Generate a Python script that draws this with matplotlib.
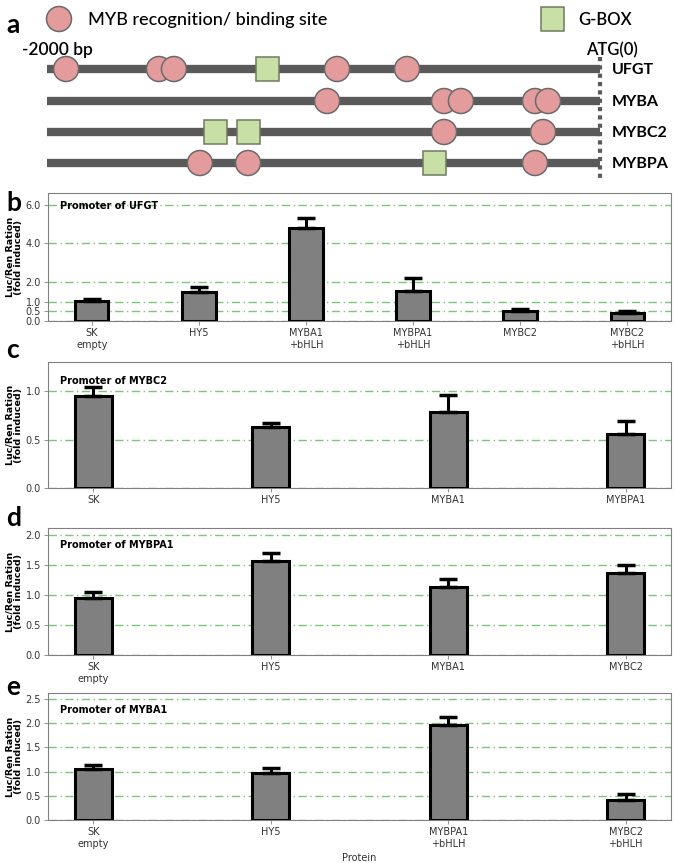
import matplotlib.pyplot as plt
from matplotlib.patches import Ellipse, Rectangle
import numpy as np

# ---- panel a: promoter maps (bp upstream of ATG) ----
genes = ["UFGT", "MYBA", "MYBC2", "MYBPA"]
ufgt_myb = [-1931, -1595, -1541, -951, -698]
ufgt_gbox = [-1204]
myba_myb = [-987, -564, -503, -235, -188]
myba_gbox = []
mybc2_myb = [-564, -206]
mybc2_gbox = [-1389, -1273]
mybpa_myb = [-1447, -1273, -235]
mybpa_gbox = [-600]

# ---- panels b-e: luciferase assays ----
b_labels = ["SK\nempty", "HY5", "MYBA1\n+bHLH", "MYBPA1\n+bHLH", "MYBC2", "MYBC2\n+bHLH"]
b_values = [1.04, 1.50, 4.79, 1.57, 0.54, 0.42]
b_err = [0.07, 0.23, 0.54, 0.63, 0.10, 0.10]

c_labels = ["SK", "HY5", "MYBA1", "MYBPA1"]
c_values = [0.95, 0.63, 0.78, 0.56]
c_err = [0.09, 0.04, 0.18, 0.13]

d_labels = ["SK\nempty", "HY5", "MYBA1", "MYBC2"]
d_values = [0.95, 1.57, 1.13, 1.37]
d_err = [0.09, 0.12, 0.13, 0.12]

e_labels = ["SK\nempty", "HY5", "MYBPA1\n+bHLH", "MYBC2\n+bHLH"]
e_values = [1.05, 0.97, 1.97, 0.41]
e_err = [0.09, 0.10, 0.15, 0.12]

W, H = 675, 863
fig = plt.figure(figsize=(W / 100, H / 100), dpi=100)

PINK = "#e39b9b"
GREEN = "#c8dfa6"
LINE = "#5a5a5a"

# panel a axes spans whole width, top 190 px; x in bp, y in pixels
axa = fig.add_axes([0, 1 - 190 / H, 1, 190 / H])
px_per_bp = 553 / 2000
axa.set_xlim(-2000 - 47 / px_per_bp, -2000 + (W - 47) / px_per_bp)
axa.set_ylim(190, 0)
axa.axis("off")


def bp(px):
    return -2000 + (px - 47) / px_per_bp


ell_w, ell_h = 25 / px_per_bp, 25
sq_w, sq_h = 23 / px_per_bp, 24

rows_y = [69, 101, 132, 163]
myb_sets = [ufgt_myb, myba_myb, mybc2_myb, mybpa_myb]
gbox_sets = [ufgt_gbox, myba_gbox, mybc2_gbox, mybpa_gbox]
for gene, y, mybs, gboxes in zip(genes, rows_y, myb_sets, gbox_sets):
    axa.plot([-2000, 0], [y, y], color=LINE, lw=6, solid_capstyle="butt", zorder=1)
    for p in mybs:
        axa.add_patch(Ellipse((p, y), ell_w, ell_h, facecolor=PINK,
                              edgecolor="#6a6a6a", lw=1.1, zorder=3))
    for p in gboxes:
        axa.add_patch(Rectangle((p - sq_w / 2, y - sq_h / 2), sq_w, sq_h,
                                facecolor=GREEN, edgecolor="#6f7a60", lw=1.1, zorder=3))
    axa.text(bp(612), y + 1, gene, fontsize=11.5, fontweight="bold",
             va="center", ha="left", family="Lato")

axa.plot([0, 0], [57, 180], color=LINE, lw=3, linestyle=(0, (1, 1)), zorder=2)

# legend of panel a
axa.add_patch(Ellipse((bp(59), 19), ell_w, ell_h, facecolor=PINK,
                      edgecolor="#6a6a6a", lw=1.1))
axa.text(bp(88), 20, "MYB recognition/ binding site",
         fontsize=13, fontweight="medium", va="center", ha="left", family="Lato")
axa.add_patch(Rectangle((bp(553) - sq_w / 2, 19 - sq_h / 2), sq_w, sq_h,
                        facecolor=GREEN, edgecolor="#6f7a60", lw=1.1))
axa.text(bp(578), 20, "G-BOX", fontsize=12, fontweight="semibold",
         va="center", ha="left", family="Lato")
axa.text(bp(22), 50, "-2000 bp", fontsize=12.5, fontweight="semibold",
         va="center", ha="left", family="Lato")
axa.text(bp(586), 50, "ATG(0)", fontsize=12, fontweight="semibold",
         va="center", ha="left", family="Lato")


def panel(top, bottom, labels, values, err, ymax, yticks, title, title_y, width, xpad,
          xlabel=None):
    ax = fig.add_axes([48 / W, 1 - bottom / H, (671 - 48) / W, (bottom - top) / H])
    x = np.arange(len(values))
    ax.bar(x, values, width=width, color="#808080", edgecolor="black", lw=2.2, zorder=3)
    ax.errorbar(x, values, yerr=[np.zeros(len(err)), err], fmt="none", ecolor="black",
                elinewidth=2.2, capsize=6.5, capthick=2.5, zorder=4)
    ax.set_xlim(-xpad, len(values) - 1 + xpad)
    ax.set_ylim(0, ymax)
    ax.set_yticks(yticks)
    ax.set_yticklabels([f"{t:.1f}" for t in yticks], fontsize=7, color="#333333")
    ax.set_xticks(x)
    ax.set_xticklabels(labels, fontsize=7, color="#333333")
    ax.yaxis.grid(True, linestyle=(0, (6, 2.5, 1, 2.5)), color="#7cc67c", lw=1.0)
    ax.set_axisbelow(True)
    for s in ax.spines.values():
        s.set_color("#808080")
        s.set_linewidth(0.8)
    ax.tick_params(length=3, width=0.6, color="#808080", pad=2)
    ax.set_ylabel("Luc/Ren Ration\n(fold induced)", fontsize=6.8, fontweight="bold",
                  linespacing=1.0)
    ax.yaxis.set_label_coords(-0.04, 0.5)
    ax.text(0.02, title_y, title, transform=ax.transAxes, fontsize=7, fontweight="bold",
            va="center", ha="left")
    if xlabel:
        ax.set_xlabel(xlabel, fontsize=7, labelpad=3, color="#333333")
    return ax


panel(193, 321, b_labels, b_values, b_err, 6.6, [0, 0.5, 1, 2, 4, 6],
      "Promoter of UFGT", 0.9, 0.31, 0.41)
panel(362, 488, c_labels, c_values, c_err, 1.3, [0, 0.5, 1.0],
      "Promoter of MYBC2", 0.85, 0.21, 0.255)
panel(528, 655, d_labels, d_values, d_err, 2.11, [0, 0.5, 1.0, 1.5, 2.0],
      "Promoter of MYBPA1", 0.87, 0.21, 0.255)
panel(693, 820, e_labels, e_values, e_err, 2.62, [0, 0.5, 1.0, 1.5, 2.0, 2.5],
      "Promoter of MYBA1", 0.87, 0.21, 0.255, xlabel="Protein")

for letter, y in [("a", 25), ("b", 203), ("c", 350), ("d", 518), ("e", 687)]:
    fig.text(6 / W, 1 - y / H, letter, fontsize=19, fontweight="bold",
             va="center", ha="left", family="Lato")

fig.savefig("out.png", dpi=100)
